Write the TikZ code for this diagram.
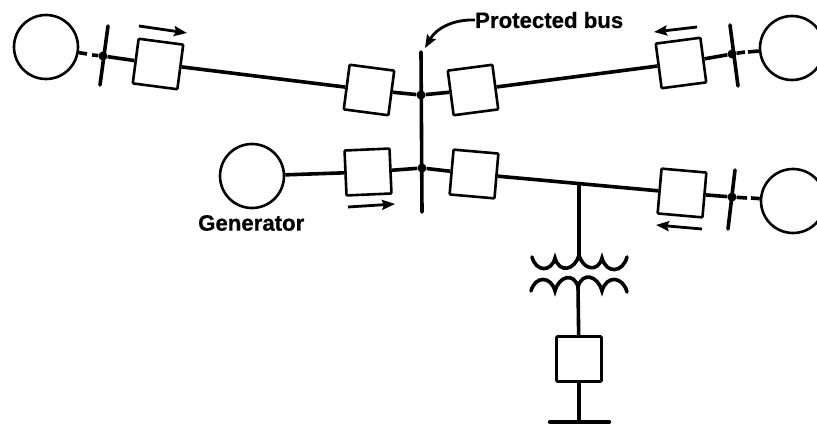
\documentclass[tikz,border=0pt]{standalone}
\usepackage{fontspec}
\setmainfont{Liberation Sans}
\newfontfamily\lblfont[FakeBold=0.6]{Liberation Sans Bold}
\usetikzlibrary{arrows.meta}
\tikzstyle{machine} = [circle, minimum size=64pt, inner sep=0pt, line width=2.6pt, draw=black]
\tikzstyle{breaker} = [rectangle, rounded corners=1pt, minimum width=45pt, minimum height=45pt, inner sep=0pt, line width=2.6pt, draw=black]
\tikzstyle{joint} = [circle, minimum size=9pt, inner sep=0pt, fill=black]
\tikzstyle{label} = [font=\lblfont\fontsize{22.2}{23}\selectfont, inner sep=0pt, text=black]
\tikzstyle{line} = [line width=3.6pt]
\tikzstyle{busbar} = [line width=3.6pt, line cap=round]
\tikzstyle{coil} = [line width=3.6pt, line cap=round]
\tikzstyle{arrow} = [line width=2.8pt,-{Stealth[length=13pt,width=10pt,inset=2pt]}]

\begin{document}
\begin{tikzpicture}[x=1pt, y=1pt]
	\useasboundingbox (0,0) rectangle (817,-425);

	\node (genA) [machine] at (46,-47) {};
	\node (genB) [machine] at (252,-176) {};
	\node (genC) [machine] at (792,-48) {};
	\node (genD) [machine] at (793,-201) {};

	\node (brkA) [breaker, rotate=-7.5] at (158,-64) {};
	\node (brkB) [breaker, rotate=-7.5] at (369,-90) {};
	\node (brkC) [breaker, rotate=7.5] at (473,-90) {};
	\node (brkD) [breaker, rotate=7.5] at (681,-63) {};
	\node (brkE) [breaker, rotate=2.5] at (368,-172) {};
	\node (brkF) [breaker, rotate=-5] at (474,-174) {};
	\node (brkG) [breaker, rotate=-5] at (682,-193) {};
	\node (brkH) [breaker] at (579,-359) {};

	\node (jctA) [joint] at (103,-56) {};
	\node (jctB) [joint] at (421,-95) {};
	\node (jctC) [joint] at (422,-168) {};
	\node (jctD) [joint] at (732,-54) {};
	\node (jctE) [joint] at (732,-197) {};

	% stubs with the small gap
	\coordinate (stubA1) at (87,-54);
	\coordinate (stubA2) at (92,-55);
	\coordinate (stubD1) at (745,-52);
	\coordinate (stubD2) at (748,-52);
	\coordinate (stubE1) at (747,-198);
	\coordinate (stubE2) at (751,-198);

	% buses
	\coordinate (busTop) at (421,-52);
	\coordinate (busEnd) at (422,-212);
	\coordinate (busA1) at (108,-26);
	\coordinate (busA2) at (100,-85);
	\coordinate (busD1) at (730,-25);
	\coordinate (busD2) at (738,-86);
	\coordinate (busE1) at (735,-170);
	\coordinate (busE2) at (728,-229);

	% transformer
	\coordinate (tap) at (579,-182);
	\coordinate (upA) at (532,-257);
	\coordinate (upB) at (555,-258);
	\coordinate (upC) at (579,-255);
	\coordinate (upD) at (602,-258);
	\coordinate (upE) at (627,-257);
	\coordinate (loA) at (531,-291);
	\coordinate (loB) at (555,-291);
	\coordinate (loC) at (578,-287);
	\coordinate (loD) at (602,-291);
	\coordinate (loE) at (627,-292);
	\coordinate (gndL) at (550,-422);
	\coordinate (gndM) at (579,-422);
	\coordinate (gndR) at (609,-422);

	\draw [busbar] (busTop) -- (busEnd);
	\draw [busbar] (busA1) -- (busA2);
	\draw [busbar] (busD1) -- (busD2);
	\draw [busbar] (busE1) -- (busE2);

	\draw [line] (genA) -- (stubA1);
	\draw [line] (stubA2) -- (jctA);
	\draw [line] (jctA) -- (brkA);
	\draw [line] (brkA) -- (brkB);
	\draw [line] (brkB) -- (jctB);
	\draw [line] (jctB) -- (brkC);
	\draw [line] (brkC) -- (brkD);
	\draw [line] (brkD) -- (jctD);
	\draw [line] (jctD) -- (stubD1);
	\draw [line] (stubD2) -- (genC);
	\draw [line] (genB) -- (brkE);
	\draw [line] (brkE) -- (jctC);
	\draw [line] (jctC) -- (brkF);
	\draw [line] (brkF) -- (brkG);
	\draw [line] (brkG) -- (jctE);
	\draw [line] (jctE) -- (stubE1);
	\draw [line] (stubE2) -- (genD);

	\draw [line] (tap) -- (upC);
	\draw [coil] (upA) to[out=-75,in=-105,looseness=1.7] (upB) to[out=-75,in=-105,looseness=1.7] (upC) to[out=-75,in=-105,looseness=1.7] (upD) to[out=-75,in=-105,looseness=1.7] (upE);
	\draw [coil] (loA) to[out=75,in=105,looseness=1.7] (loB) to[out=75,in=105,looseness=1.7] (loC) to[out=75,in=105,looseness=1.7] (loD) to[out=75,in=105,looseness=1.7] (loE);
	\draw [line] (loC) -- (brkH);
	\draw [line] (brkH) -- (gndM);
	\draw [line width=4.5pt, line cap=round] (gndL) -- (gndR);

	% direction arrows
	\coordinate (arrA1) at (139,-26);
	\coordinate (arrA2) at (187,-33);
	\coordinate (arrD1) at (697,-27);
	\coordinate (arrD2) at (654,-32);
	\coordinate (arrE1) at (348,-207);
	\coordinate (arrE2) at (395,-204);
	\coordinate (arrG1) at (702,-229);
	\coordinate (arrG2) at (656,-225);
	\draw [arrow] (arrA1) -- (arrA2);
	\draw [arrow] (arrD1) -- (arrD2);
	\draw [arrow] (arrE1) -- (arrE2);
	\draw [arrow] (arrG1) -- (arrG2);

	\node (lblBus) [label, anchor=west] at (475,-20) {Protected bus};
	\node (lblGen) [label, anchor=west] at (198,-223) {Generator};
	\coordinate (busTip) at (425,-48);
	\draw [arrow] (lblBus.west) to[out=178,in=60] (busTip);

\end{tikzpicture}
\end{document}
